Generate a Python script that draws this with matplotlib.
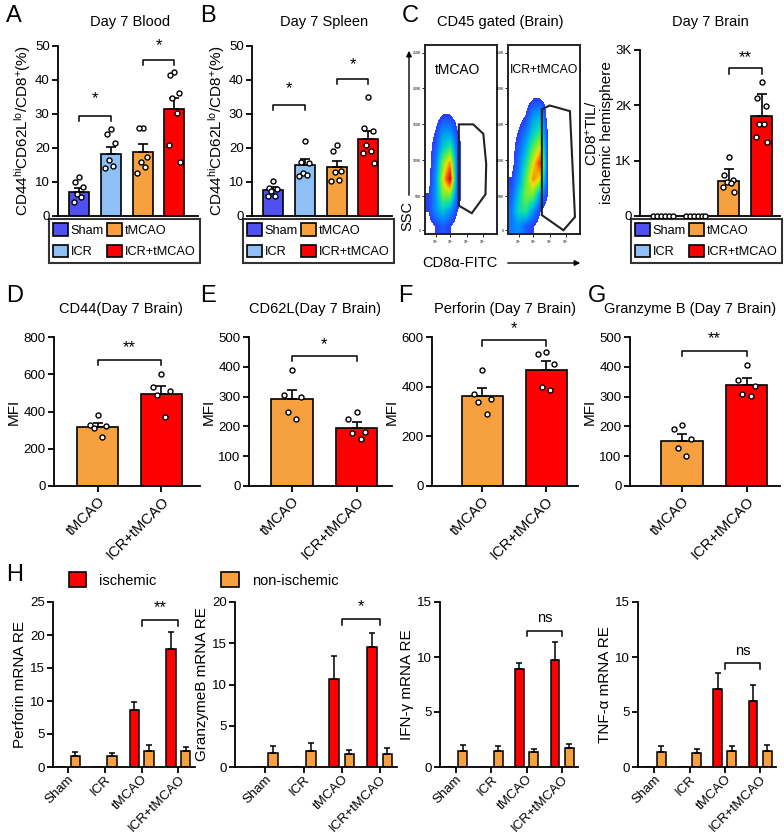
import numpy as np
import matplotlib
matplotlib.use("Agg")
import matplotlib.pyplot as plt
from matplotlib.patches import Patch, Polygon, FancyArrowPatch
from matplotlib.colors import LinearSegmentedColormap

plt.rcParams['font.family'] = ['Liberation Sans', 'DejaVu Sans']
plt.rcParams['mathtext.fontset'] = 'custom'
plt.rcParams['mathtext.rm'] = 'Liberation Sans'
plt.rcParams['mathtext.it'] = 'Liberation Sans'
plt.rcParams['axes.linewidth'] = 1.3
plt.rcParams['xtick.major.width'] = 1.3
plt.rcParams['ytick.major.width'] = 1.3
plt.rcParams['xtick.major.size'] = 4
plt.rcParams['ytick.major.size'] = 4

W, H = 784, 836

# ---------------- data ----------------
groups4 = ['Sham', 'ICR', 'tMCAO', 'ICR+tMCAO']
groups2 = ['tMCAO', 'ICR+tMCAO']
col4 = ['#5050F0', '#8EC0F5', '#F7A040', '#FF0000']
col2 = ['#F7A040', '#FF0000']

# A: Day 7 blood, CD44hi CD62Llo / CD8+ (%)
blood_mean = [7.1, 18.2, 18.9, 31.4]
blood_sem = [1.2, 2.2, 2.4, 3.3]
blood_pts = [[11.4, 9.9, 8.5, 6.5, 5.6, 4.2],
             [25.5, 24.0, 21.5, 16.5, 14.8, 14.0],
             [26.0, 26.0, 17.5, 16.0, 14.3, 12.7],
             [42.3, 41.5, 36.3, 34.8, 30.3, 21.0, 16.0]]

# B: Day 7 spleen
spleen_mean = [7.6, 15.1, 14.5, 22.6]
spleen_sem = [0.8, 1.8, 1.8, 2.4]
spleen_pts = [[10.2, 8.3, 7.8, 7.3, 5.9, 5.9],
              [22.0, 16.0, 15.5, 12.7, 12.0, 11.8],
              [21.0, 19.0, 13.2, 12.8, 10.5, 10.2],
              [35.0, 26.0, 25.0, 21.0, 19.2, 18.5, 15.6]]

# C: Day 7 brain, CD8+ TIL count
til_mean = [0, 0, 633, 1807]
til_sem = [0, 0, 210, 392]
til_pts = [[0, 0, 0, 0, 0, 0],
           [0, 0, 0, 0, 0, 0],
           [1070, 740, 650, 620, 600, 530, 440],
           [2430, 2140, 1990, 1660, 1660, 1430, 1340]]

# D-G: MFI
mfi_titles = ['CD44(Day 7 Brain)', 'CD62L(Day 7 Brain)',
              'Perforin (Day 7 Brain)', 'Granzyme B (Day 7 Brain)']
mfi_letters = ['D', 'E', 'F', 'G']
mfi_ymax = [800, 500, 600, 500]
mfi_ystep = [200, 100, 200, 100]
mfi_mean = [[317, 496], [291, 195], [361, 466], [151, 340]]
mfi_sem = [[21, 42], [32, 20], [32, 36], [22, 22]]
mfi_pts = [[[380, 330, 320, 310, 265], [600, 530, 510, 490, 370]],
           [[390, 305, 300, 247, 225], [250, 225, 180, 178, 157]],
           [[468, 370, 350, 338, 290], [540, 530, 490, 400, 388]],
           [[204, 190, 157, 128, 100], [407, 357, 335, 310, 302]]]
mfi_sig = ['**', '*', '*', '**']
mfi_br = [678, 436, 586, 453]

# H: mRNA RE, ischemic vs non-ischemic
h_ylabels = ['Perforin mRNA RE', 'GranzymeB mRNA RE', 'IFN-γ mRNA RE', 'TNF-α mRNA RE']
h_ymax = [25, 20, 15, 15]
h_ystep = [5, 5, 5, 5]
isch_mean = [[0, 0, 8.7, 17.9], [0, 0, 10.7, 14.5], [0, 0, 8.9, 9.7], [0, 0, 7.1, 6.0]]
isch_sem = [[0, 0, 1.1, 2.5], [0, 0, 2.7, 1.8], [0, 0, 0.55, 1.7], [0, 0, 1.45, 1.45]]
non_mean = [[1.6, 1.6, 2.4, 2.4], [1.7, 2.0, 1.6, 1.6], [1.5, 1.5, 1.33, 1.7], [1.4, 1.3, 1.45, 1.5]]
non_sem = [[0.6, 0.5, 0.9, 0.7], [0.9, 0.9, 0.5, 0.7], [0.5, 0.4, 0.3, 0.4], [0.5, 0.3, 0.45, 0.5]]
h_sig = ['**', '*', 'ns', 'ns']
h_br = [22.3, 17.9, 12.4, 9.45]

# flow cytometry: coarse relative density (rows top->bottom)
flow_tmcao = [[0, 0, 0, 0, 0, 0, 0, 0, 0, 0],
              [0, 0, 0, 0, 0, 0, 0, 0, 0, 0],
              [0, 0, 0, 0, 0, 0, 0, 0, 0, 0],
              [0, 0, 0, 0, 0, 0, 0, 0, 0, 0],
              [0, 0, 0.5, 0.5, 0, 0, 0, 0, 0, 0],
              [0, 0.5, 2, 2, 0.5, 0, 0, 0, 0, 0],
              [0, 1, 3, 4, 1, 0, 0, 0, 0, 0],
              [0, 1.5, 5, 7, 1, 0, 0, 0, 0, 0],
              [0, 2, 6, 9, 1, 0, 0, 0, 0, 0],
              [0.5, 2, 5, 5, 1, 0, 0, 0, 0, 0],
              [0.5, 2, 3, 2, 0.5, 0, 0, 0, 0, 0],
              [0, 0.5, 1, 0.5, 0, 0, 0, 0, 0, 0]]
flow_icr = [[0, 0, 0, 0, 0, 0, 0, 0, 0, 0],
            [0, 0, 0, 0, 0, 0, 0, 0, 0, 0],
            [0, 0, 0, 0, 0, 0, 0, 0, 0, 0],
            [0, 0, 0, 0.5, 0.5, 0, 0, 0, 0, 0],
            [0, 0, 0.5, 2, 2.5, 0, 0, 0, 0, 0],
            [0, 0.5, 1.5, 3, 4, 0.5, 0, 0, 0, 0],
            [0, 1, 2.5, 4.5, 6, 0.5, 0, 0, 0, 0],
            [0, 1.5, 3.5, 6, 8, 0.5, 0, 0, 0, 0],
            [0.5, 2, 4.5, 7, 6, 0.5, 0, 0, 0, 0],
            [1, 3, 5, 5, 2, 0.5, 0, 0, 0, 0],
            [1.5, 3.5, 4, 2, 0.5, 0, 0, 0, 0, 0],
            [1.5, 2, 1, 0.5, 0, 0, 0, 0, 0, 0]]
gate_tmcao = [(0.47, 0.58), (0.67, 0.58), (0.81, 0.53), (0.85, 0.37),
              (0.84, 0.21), (0.65, 0.11), (0.47, 0.15)]
gate_icr = [(0.47, 0.66), (0.58, 0.68), (0.86, 0.65), (0.93, 0.09),
            (0.77, 0.02), (0.47, 0.10)]


def rect(x0, x1, ytop, ybot):
    return [x0 / W, 1 - ybot / H, (x1 - x0) / W, (ybot - ytop) / H]


def style(ax):
    for s in ['top', 'right']:
        ax.spines[s].set_visible(False)
    ax.tick_params(labelsize=9.5, direction='out', pad=2)


def jitter(n, spread=0.13):
    pattern = [0, -1, 1, -0.5, 0.5, -1.3, 1.3, 0.2]
    return np.array(pattern[:n]) * spread


def dot_bar(ax, i, mean, sem, pts, color, width):
    ax.bar(i, mean, width, color=color, edgecolor='black', linewidth=1.2, zorder=2)
    if sem > 0:
        ax.errorbar(i, mean, yerr=[[0], [sem]], color='black', capsize=3.5,
                    elinewidth=1.2, capthick=1.2, zorder=3)
    if max(pts) == 0:
        xs = i + np.linspace(-width / 2.2, width / 2.2, len(pts))
    else:
        xs = i + jitter(len(pts))
    ax.scatter(xs, pts, s=13, facecolor='white', edgecolor='black',
               linewidths=1.0, zorder=4, clip_on=False)


def bracket(ax, x1, x2, y, h, text, ty, fs=12):
    ax.plot([x1, x1, x2, x2], [y - h, y, y, y - h], color='black', lw=1.1,
            clip_on=False)
    ax.text((x1 + x2) / 2, ty, text, ha='center', va='center', fontsize=fs,
            clip_on=False)


fig = plt.figure(figsize=(W / 100, H / 100), dpi=100)


def letter(x, y, s):
    fig.text(x / W, 1 - y / H, s, fontsize=17, ha='left', va='center')


def group_legend(x, y):
    handles = [Patch(facecolor=c, edgecolor='black', linewidth=1.2) for c in col4]
    leg = fig.legend(handles, groups4, loc='upper left',
                     bbox_to_anchor=(x / W, 1 - y / H), ncol=2,
                     frameon=True, fancybox=False, edgecolor='black', fontsize=9.2,
                     handlelength=1.15, handleheight=1.15, handletextpad=0.2,
                     columnspacing=0.25, borderpad=0.35, labelspacing=0.6,
                     borderaxespad=0)
    leg.get_frame().set_linewidth(1.5)


# ---------------- A & B ----------------
for x0, title, lab, means, sems, pts, brs in [
        (58, 'Day 7 Blood', 'A', blood_mean, blood_sem, blood_pts,
         [(0, 1, 29.5, 34.5), (2, 3, 46.0, 50.0)]),
        (252, 'Day 7 Spleen', 'B', spleen_mean, spleen_sem, spleen_pts,
         [(0, 1, 32.7, 37.5), (2, 3, 40.4, 44.5)])]:
    ax = fig.add_axes(rect(x0, x0 + 140, 46, 216))
    style(ax)
    for i in range(4):
        dot_bar(ax, i, means[i], sems[i], pts[i], col4[i], 0.63)
    ax.set_xlim(-0.66, 3.74)
    ax.set_ylim(0, 50)
    ax.set_yticks(range(0, 51, 10))
    ax.set_xticks([])
    ax.set_ylabel('CD44$^{\\mathrm{hi}}$CD62L$^{\\mathrm{lo}}$/CD8$^{+}$(%)',
                  fontsize=11, labelpad=1)
    for a, b, y, ty in brs:
        bracket(ax, a, b, y, 1.6, '*', ty)
    fig.text((x0 + 72) / W, 1 - 22 / H, title, ha='center', va='center', fontsize=10.5)
    letter(x0 - 52, 16, lab)
    group_legend(x0 - 9, 219)

# ---------------- C flow plots ----------------
flow_cmap = LinearSegmentedColormap.from_list(
    'flow', ['#2a3cff', '#0090ff', '#00d8c0', '#60f040', '#f0e000', '#ff5000', '#d00000'])
flow_cmap.set_under('white')
fig.text(500 / W, 1 - 22 / H, 'CD45 gated (Brain)', ha='center', va='center', fontsize=10.5)
letter(402, 16, 'C')
for x0, dens, gate, name in [(425, flow_tmcao, gate_tmcao, 'tMCAO'),
                             (508, flow_icr, gate_icr, 'ICR+tMCAO')]:
    ax = fig.add_axes(rect(x0, x0 + 72, 45, 234))
    ax.imshow(np.array(dens, dtype=float), extent=(0, 1, 0, 1), origin='upper',
              cmap=flow_cmap, vmin=0.45, vmax=9, interpolation='bilinear',
              aspect='auto')
    ax.add_patch(Polygon(gate, closed=True, fill=False, edgecolor='#222222', lw=1.5))
    ax.set_xlim(0, 1)
    ax.set_ylim(0, 1)
    for s in ax.spines.values():
        s.set_linewidth(1.4)
        s.set_color('#222222')
    ax.set_yticks([0.02, 0.2, 0.39, 0.58, 0.77, 0.96])
    ax.set_yticklabels(['0', '50K', '100K', '150K', '200K', '250K'], fontsize=2.5)
    ax.set_xticks([0.15, 0.35, 0.58, 0.8])
    ax.set_xticklabels(['10$^2$', '10$^3$', '10$^4$', '10$^5$'], fontsize=2.5)
    ax.tick_params(length=2, width=0.6, pad=1)
    ax.text(0.5 if name != 'tMCAO' else 0.45, 0.87, name, transform=ax.transAxes,
            ha='center', va='center', fontsize=10 if name == 'tMCAO' else 8.8)

fig.add_artist(FancyArrowPatch(
    (409 / W, 1 - 198 / H), (409 / W, 1 - 48 / H), transform=fig.transFigure,
    arrowstyle='-|>', mutation_scale=8, lw=1.0, color='black'))
fig.text(407 / W, 1 - 216 / H, 'SSC', rotation=90, ha='center', va='center',
         fontsize=10.5, zorder=10)
fig.text(460 / W, 1 - 263 / H, 'CD8α-FITC', ha='center', va='center', fontsize=10.5)
fig.add_artist(FancyArrowPatch(
    (505 / W, 1 - 263 / H), (583 / W, 1 - 263 / H), transform=fig.transFigure,
    arrowstyle='-|>', mutation_scale=8, lw=1.0, color='black'))

# ---------------- C bar ----------------
ax = fig.add_axes(rect(640, 780, 50, 216))
style(ax)
for i in range(4):
    dot_bar(ax, i, til_mean[i], til_sem[i], til_pts[i], col4[i], 0.64)
ax.set_xlim(-0.7, 3.56)
ax.set_ylim(0, 3000)
ax.set_yticks([0, 1000, 2000, 3000])
ax.set_yticklabels(['0', '1K', '2K', '3K'])
ax.set_xticks([])
ax.set_ylabel('CD8$^{+}$TIL/\nischemic hemisphere', fontsize=11, labelpad=1,
              linespacing=1.0)
bracket(ax, 2, 3, 2669, 110, '**', 2860)
fig.text(710 / W, 1 - 22 / H, 'Day 7 Brain', ha='center', va='center', fontsize=10.5)
group_legend(631, 219)

# ---------------- D-G ----------------
mfi_geom = [(54, 200, -0.69, 1.61), (249, 392, -0.67, 1.55),
            (432, 578, -0.79, 1.50), (630, 780, -0.81, 1.52)]
mfi_title_x = [121, 315, 505, 690]
mfi_letter_x = [6, 200, 398, 588]
for k in range(4):
    x0, x1, xl, xr = mfi_geom[k]
    ax = fig.add_axes(rect(x0, x1, 337, 486))
    style(ax)
    for i in range(2):
        dot_bar(ax, i, mfi_mean[k][i], mfi_sem[k][i], mfi_pts[k][i], col2[i], 0.645)
    ax.set_xlim(xl, xr)
    ax.set_ylim(0, mfi_ymax[k])
    ax.set_yticks(range(0, mfi_ymax[k] + 1, mfi_ystep[k]))
    ax.set_xticks([0, 1])
    ax.set_xticklabels(groups2, rotation=45, ha='right', rotation_mode='anchor',
                       fontsize=10.5)
    ax.set_ylabel('MFI', fontsize=11, labelpad=2)
    h = mfi_ymax[k] * 0.035
    bracket(ax, 0, 1, mfi_br[k], h, mfi_sig[k], mfi_br[k] + mfi_ymax[k] * 0.08)
    fig.text(mfi_title_x[k] / W, 1 - 309 / H, mfi_titles[k], ha='center',
             va='center', fontsize=10.5)
    letter(mfi_letter_x[k], 296, mfi_letters[k])

# ---------------- H ----------------
h_geom = [(53, 195, -0.4, 3.45), (235, 397, -0.8, 3.45),
          (440, 578, -0.44, 3.45), (638, 776, -0.46, 3.45)]
for k in range(4):
    x0, x1, xl, xr = h_geom[k]
    ax = fig.add_axes(rect(x0, x1, 602, 767))
    style(ax)
    xs = np.arange(4)
    ax.bar(xs - 0.2, isch_mean[k], 0.25, color='#FF0000', edgecolor='black',
           linewidth=1.1, zorder=2)
    ax.bar(xs + 0.2, non_mean[k], 0.25, color='#F7A040', edgecolor='black',
           linewidth=1.1, zorder=2)
    for i in range(4):
        if isch_mean[k][i] > 0:
            ax.errorbar(i - 0.2, isch_mean[k][i], yerr=[[0], [isch_sem[k][i]]],
                        color='black', capsize=2.5, elinewidth=1.1, capthick=1.1)
        ax.errorbar(i + 0.2, non_mean[k][i], yerr=[[0], [non_sem[k][i]]],
                    color='black', capsize=2.5, elinewidth=1.1, capthick=1.1)
    ax.set_xlim(xl, xr)
    ax.set_ylim(0, h_ymax[k])
    ax.set_yticks(range(0, h_ymax[k] + 1, h_ystep[k]))
    ax.set_xticks(xs)
    ax.set_xticklabels(groups4, rotation=45, ha='right', rotation_mode='anchor',
                       fontsize=9.5)
    ax.tick_params(axis='x', pad=0.5)
    ax.set_ylabel(h_ylabels[k], fontsize=11, labelpad=2)
    h = h_ymax[k] * 0.035
    bracket(ax, 2, 3, h_br[k], h, h_sig[k], h_br[k] + h_ymax[k] * 0.075,
            fs=12 if h_sig[k] != 'ns' else 10.5)

letter(6, 575, 'H')
fig.legend([Patch(facecolor='#FF0000', edgecolor='black', linewidth=1.2),
            Patch(facecolor='#F7A040', edgecolor='black', linewidth=1.2)],
           ['ischemic', 'non-ischemic'], loc='center left',
           bbox_to_anchor=(63 / W, 1 - 580 / H), ncol=2, frameon=False,
           fontsize=10.5, handlelength=1.2, handleheight=1.2, handletextpad=0.9,
           columnspacing=4.4, borderaxespad=0)

fig.savefig('out.png', dpi=100)
